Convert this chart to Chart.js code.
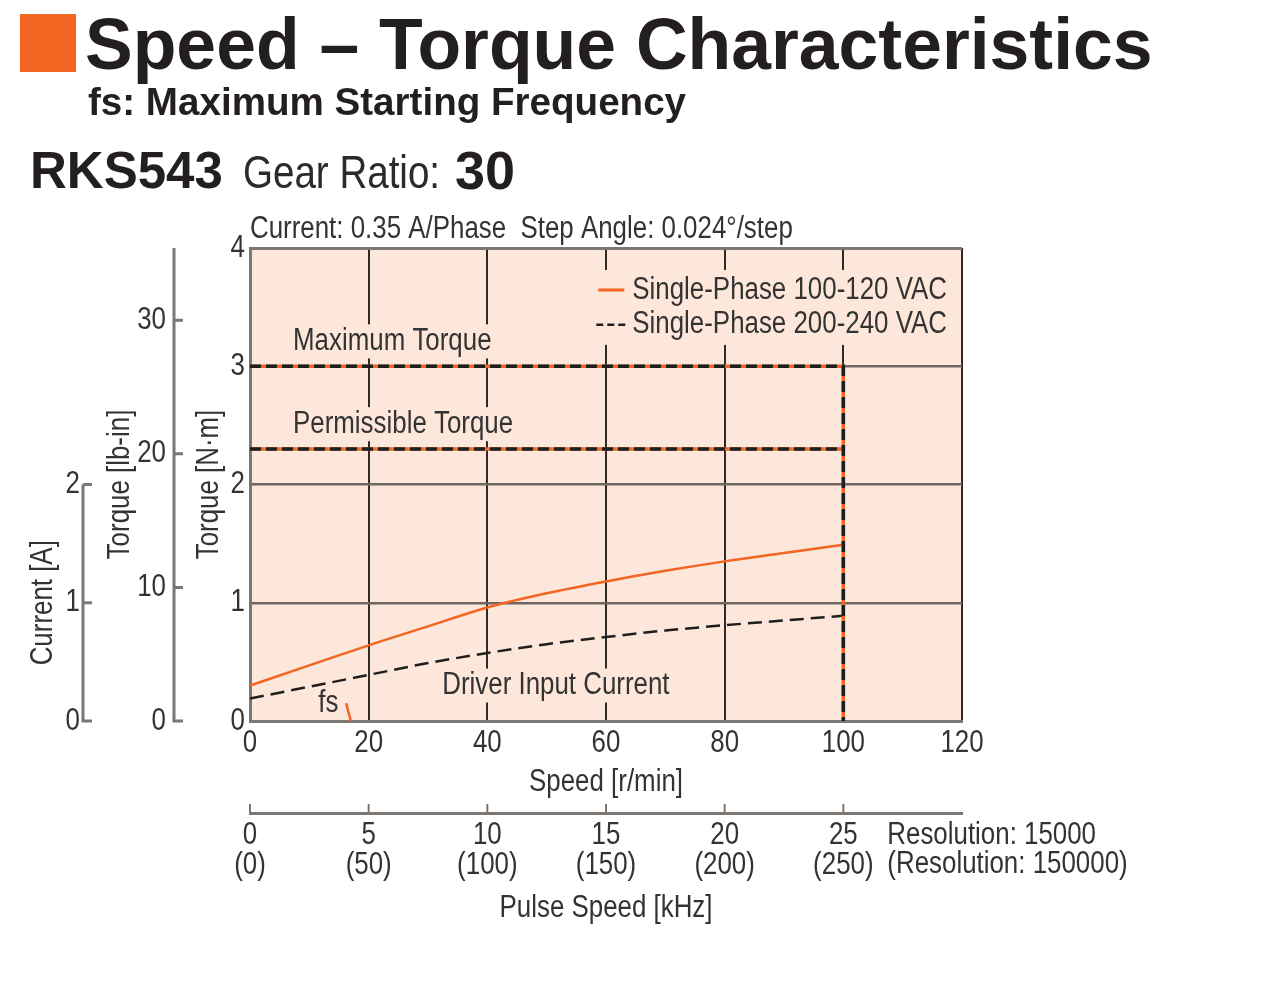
<!DOCTYPE html>
<html>
<head>
<meta charset="utf-8">
<title>Speed - Torque Characteristics</title>
<script src="https://cdn.jsdelivr.net/npm/chart.js"></script>
<style>
  body { margin: 0; background: #fff; }
  #wrap { position: relative; width: 1280px; height: 1002px; overflow: hidden; }
  #chart { position: absolute; left: 0; top: 0; }
  .t { position: absolute; white-space: nowrap; color: #231f20; line-height: 1; }
  .mark { position: absolute; left: 20px; top: 14px; width: 56px; height: 58px; background: #f26522; }
  .h1 { left: 85px; top: 9px; font: bold 71.5px "Liberation Sans", Arial, sans-serif; line-height: 71px; }
  .h2 { left: 88px; top: 83px; font: bold 38.6px "Liberation Sans", Arial, sans-serif; line-height: 38px; }
  .model { left: 30px; top: 145px; font: bold 51px "Liberation Sans", Arial, sans-serif; line-height: 51px; }
  .gear { left: 243px; top: 148px; font: 47px "Liberation Sans", Arial, sans-serif; line-height: 47px; color: #2b2b2b;
          transform: scaleX(0.82); transform-origin: 0 0; }
  .ratio { left: 455px; top: 143px; font: bold 54px "Liberation Sans", Arial, sans-serif; line-height: 54px; }
</style>
</head>
<body>
<div id="wrap">
  <canvas id="chart" width="1280" height="1002"></canvas>
  <div class="mark"></div>
  <div class="t h1">Speed – Torque Characteristics</div>
  <div class="t h2">fs: Maximum Starting Frequency</div>
  <div class="t model">RKS543</div>
  <div class="t gear">Gear Ratio:</div>
  <div class="t ratio">30</div>
</div>
<script>
// ---- data ----
var speed = [0, 10, 20, 30, 40, 50, 60, 70, 80, 90, 100];          // r/min
var torque100V = [0.30, 0.47, 0.64, 0.80, 0.96, 1.08, 1.18, 1.27, 1.35, 1.42, 1.49]; // N·m
var torque200V = [0.19, 0.29, 0.39, 0.49, 0.575, 0.65, 0.71, 0.765, 0.81, 0.85, 0.89];
var maxTorque = 3.0;
var permTorque = 2.3;
var maxSpeed = 100;
var fsSpeed = [16.2, 17.0];
var fsValue = [0.15, 0];
var pulseKHz = [0, 5, 10, 15, 20, 25];
var pulseKHzHi = [0, 50, 100, 150, 200, 250];
var NM_TO_LBIN = 8.851;

var FONT = '"Liberation Sans", Arial, sans-serif';
var SQUEEZE = 0.835;   // no narrow face installed, so squeeze the glyphs like a condensed font
var TXT = '#333';
var AXIS = '#7d7774';
var PEACH = '#fde7da';
var ORANGE = '#f26522';
var BLACK = '#1e1e1e';

var canvas = document.getElementById('chart');
var c2d = canvas.getContext('2d');
var nativeFill = c2d.fillText.bind(c2d);
c2d.fillText = function (text, x, y, maxWidth) {
  var w = c2d.measureText(text).width * SQUEEZE;
  if (maxWidth !== undefined && maxWidth < w) w = maxWidth;
  nativeFill(text, x, y, Math.max(w, 0.01));
};

function pts(xs, ys) {
  return xs.map(function (x, i) { return { x: x, y: ys[i] }; });
}
var maxLine = [{ x: 0, y: maxTorque }, { x: maxSpeed, y: maxTorque }, { x: maxSpeed, y: 0 }];
var permLine = [{ x: 0, y: permTorque }, { x: maxSpeed, y: permTorque }];

function boxText(ctx, text, x, y) {
  var w = ctx.measureText(text).width * SQUEEZE;
  ctx.fillStyle = PEACH;
  ctx.fillRect(x - 4, y - 17, w + 8, 34);
  ctx.fillStyle = TXT;
  ctx.fillText(text, x, y);
}

var extras = {
  id: 'extras',
  beforeDraw: function (chart) {
    var a = chart.chartArea, ctx = chart.ctx;
    ctx.save();
    ctx.fillStyle = PEACH;
    ctx.fillRect(a.left, a.top, a.right - a.left, a.bottom - a.top);
    ctx.restore();
  },
  beforeDatasetsDraw: function (chart) {
    var ctx = chart.ctx, sx = chart.scales.x, sy = chart.scales.y;
    ctx.save();
    ctx.font = '31px ' + FONT;
    ctx.textBaseline = 'middle';
    ctx.textAlign = 'left';
    boxText(ctx, 'Maximum Torque', sx.getPixelForValue(7.25), sy.getPixelForValue(3.21));
    boxText(ctx, 'Permissible Torque', sx.getPixelForValue(7.25), sy.getPixelForValue(2.51));
    boxText(ctx, 'Driver Input Current', sx.getPixelForValue(32.4), sy.getPixelForValue(0.30));
    ctx.fillStyle = TXT;
    ctx.fillText('fs', sx.getPixelForValue(11.5), sy.getPixelForValue(0.15));

    // legend
    var lx = sx.getPixelForValue(58.7), y1 = sy.getPixelForValue(3.645), y2 = sy.getPixelForValue(3.35);
    ctx.fillStyle = PEACH;
    ctx.fillRect(lx - 8, y1 - 20, 365, y2 - y1 + 40);
    ctx.lineWidth = 3;
    ctx.strokeStyle = ORANGE;
    ctx.beginPath(); ctx.moveTo(lx, y1); ctx.lineTo(lx + 26, y1); ctx.stroke();
    ctx.strokeStyle = BLACK;
    ctx.lineWidth = 2.5;
    ctx.setLineDash([7, 4]);
    ctx.beginPath(); ctx.moveTo(lx - 2, y2); ctx.lineTo(lx + 27, y2); ctx.stroke();
    ctx.setLineDash([]);
    ctx.fillStyle = TXT;
    ctx.fillText('Single-Phase 100-120 VAC', lx + 34, y1);
    ctx.fillText('Single-Phase 200-240 VAC', lx + 34, y2);
    ctx.restore();
  },
  afterDraw: function (chart) {
    var ctx = chart.ctx, a = chart.chartArea;
    var yLb = chart.scales.yLb, yA = chart.scales.yA, x2 = chart.scales.x2;
    ctx.save();
    ctx.strokeStyle = AXIS;
    ctx.lineWidth = 3;
    ctx.lineCap = 'butt';
    // lb-in axis
    var xl = yLb.right - 16;
    ctx.beginPath();
    ctx.moveTo(xl, yLb.getPixelForValue(yLb.max));
    ctx.lineTo(xl, yLb.getPixelForValue(0) + 1.5);
    yLb.ticks.forEach(function (t) {
      var y = yLb.getPixelForValue(t.value);
      ctx.moveTo(xl, y); ctx.lineTo(xl + 9, y);
    });
    ctx.stroke();
    // current axis
    var xa = yA.right - 17;
    ctx.beginPath();
    ctx.moveTo(xa, yA.getPixelForValue(2));
    ctx.lineTo(xa, yA.getPixelForValue(0) + 1.5);
    yA.ticks.forEach(function (t) {
      var y = yA.getPixelForValue(t.value);
      ctx.moveTo(xa, y); ctx.lineTo(xa + 9, y);
    });
    ctx.stroke();
    // pulse speed ticks pointing up
    ctx.lineWidth = 2;
    ctx.beginPath();
    pulseKHz.forEach(function (v) {
      var x = x2.getPixelForValue(v);
      ctx.moveTo(x, x2.top); ctx.lineTo(x, x2.top - 9);
    });
    ctx.stroke();

    ctx.fillStyle = TXT;
    ctx.font = '31px ' + FONT;
    ctx.textBaseline = 'middle';
    ctx.textAlign = 'left';
    ctx.fillText('Current: 0.35 A/Phase  Step Angle: 0.024°/step', a.left, a.top - 19);
    var rx = x2.getPixelForValue(25) + 44;
    ctx.fillText('Resolution: 15000', rx, x2.top + 22);
    ctx.fillText('(Resolution: 150000)', rx, x2.top + 51);

    // current axis title, centred on the 0-2 A span
    ctx.translate(yA.left + 43, (yA.getPixelForValue(0) + yA.getPixelForValue(2)) / 2);
    ctx.rotate(-Math.PI / 2);
    ctx.textAlign = 'center';
    ctx.fillText('Current [A]', 0, 0);
    ctx.restore();
  }
};

var font31 = { family: FONT, size: 31 };

new Chart(canvas, {
  type: 'line',
  data: {
    datasets: [
      { label: 'Single-Phase 100-120 VAC', data: pts(speed, torque100V), borderColor: ORANGE, borderWidth: 2.5,
        pointRadius: 0, cubicInterpolationMode: 'monotone', order: 3 },
      { label: 'Single-Phase 200-240 VAC', data: pts(speed, torque200V), borderColor: BLACK, borderWidth: 2.5,
        borderDash: [14, 7], pointRadius: 0, cubicInterpolationMode: 'monotone', order: 3 },
      { label: 'max-b', data: maxLine, borderColor: BLACK, borderWidth: 3.5, borderDash: [11, 5], pointRadius: 0, order: 1 },
      { label: 'max-o', data: maxLine, borderColor: ORANGE, borderWidth: 3.5, pointRadius: 0, order: 2 },
      { label: 'perm-b', data: permLine, borderColor: BLACK, borderWidth: 3.5, borderDash: [11, 5], pointRadius: 0, order: 1 },
      { label: 'perm-o', data: permLine, borderColor: ORANGE, borderWidth: 3.5, pointRadius: 0, order: 2 },
      { label: 'fs', data: pts(fsSpeed, fsValue), borderColor: ORANGE, borderWidth: 2.5, pointRadius: 0, order: 3 }
    ]
  },
  options: {
    responsive: false,
    animation: false,
    devicePixelRatio: 1,
    layout: { padding: { left: 0, top: 248, right: 318, bottom: 74 } },
    plugins: { legend: { display: false }, tooltip: { enabled: false } },
    scales: {
      x: {
        type: 'linear', position: 'bottom', weight: 0, min: 0, max: 120,
        ticks: { stepSize: 20, color: TXT, font: font31, padding: 4, maxRotation: 0, autoSkip: false },
        grid: {
          drawTicks: false,
          color: function (c) { return c.tick && c.tick.value === 0 ? 'rgba(0,0,0,0)' : '#2e2a28'; },
          lineWidth: 2
        },
        border: { color: AXIS, width: 3 },
        title: { display: true, text: 'Speed [r/min]', color: TXT, font: font31, padding: { top: 0, bottom: 12 } },
        afterFit: function (s) { s.height = 92; }
      },
      x2: {
        type: 'linear', position: 'bottom', weight: 1, min: 0, max: 30,
        ticks: {
          stepSize: 5, color: TXT, font: { family: FONT, size: 31, lineHeight: 0.95 }, padding: 8,
          maxRotation: 0, autoSkip: false,
          callback: function (v) {
            var i = pulseKHz.indexOf(v);
            return i < 0 ? '' : [String(pulseKHz[i]), '(' + pulseKHzHi[i] + ')'];
          }
        },
        grid: { drawOnChartArea: false, drawTicks: false },
        border: { color: AXIS, width: 3 },
        title: { display: true, text: 'Pulse Speed [kHz]', color: TXT, font: font31, padding: { top: 0, bottom: 1 } },
        afterFit: function (s) { s.height = 115; }
      },
      y: {
        position: 'left', weight: 0, min: 0, max: 4,
        ticks: { stepSize: 1, color: TXT, font: font31, padding: 5 },
        grid: {
          drawTicks: false,
          color: function (c) {
            var v = c.tick ? c.tick.value : 0;
            return v === 0 ? 'rgba(0,0,0,0)' : (v === 4 ? AXIS : '#6f6561');
          },
          lineWidth: function (c) { return c.tick && c.tick.value === 4 ? 3 : 2.5; }
        },
        border: { color: AXIS, width: 3 },
        title: { display: true, text: 'Torque [N·m]', color: TXT, font: font31, padding: { top: 1, bottom: 0 } },
        afterFit: function (s) { s.width = 60; }
      },
      yLb: {
        position: 'left', weight: 1, min: 0, max: 4 * NM_TO_LBIN,
        ticks: { stepSize: 10, includeBounds: false, color: TXT, font: font31, padding: 24 },
        grid: { display: false, drawTicks: false },
        border: { display: false },
        title: { display: true, text: 'Torque [lb-in]', color: TXT, font: font31, padding: { top: 2, bottom: 0 } },
        afterFit: function (s) { s.width = 90; }
      },
      yA: {
        position: 'left', weight: 2, min: 0, max: 4,
        ticks: { stepSize: 1, color: TXT, font: font31, padding: 20 },
        afterBuildTicks: function (s) { s.ticks = s.ticks.filter(function (t) { return t.value <= 2; }); },
        grid: { display: false, drawTicks: false },
        border: { display: false },
        title: { display: false },
        afterFit: function (s) { s.width = 100; }
      }
    }
  },
  plugins: [extras]
});
</script>
</body>
</html>
